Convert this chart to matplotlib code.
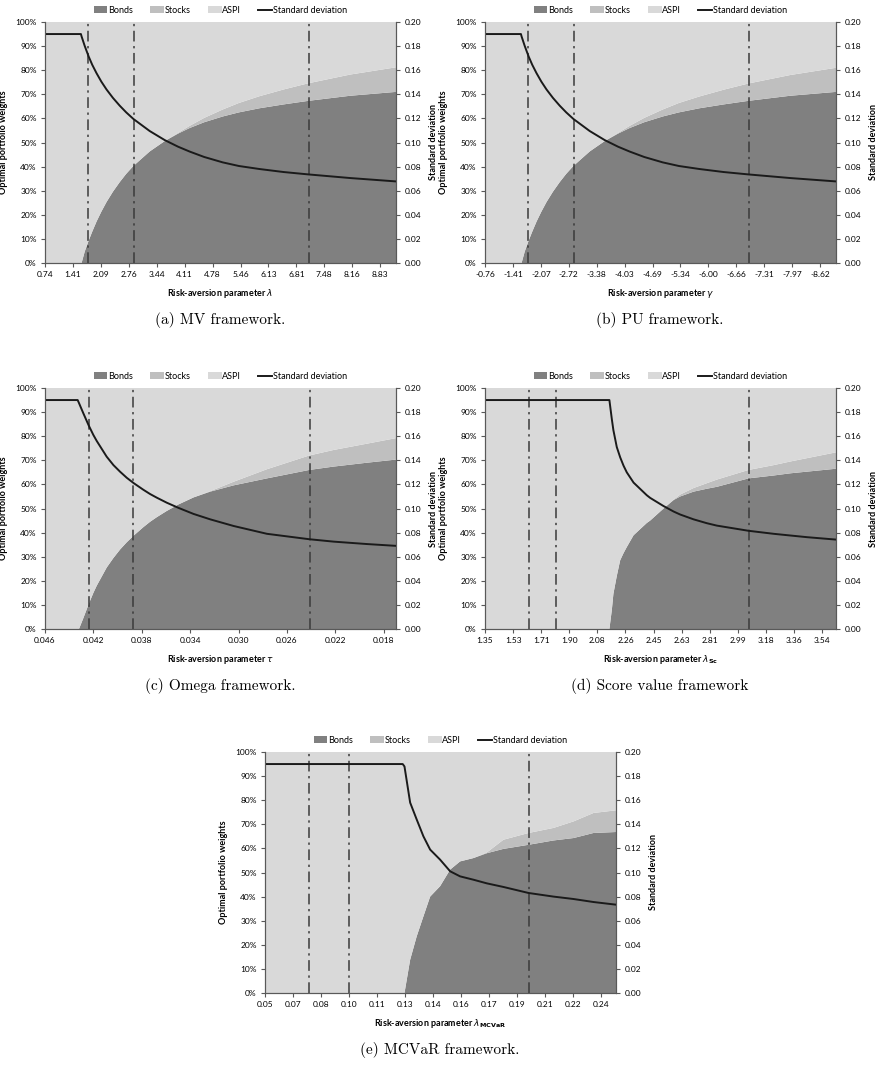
import numpy as np
import matplotlib
matplotlib.use("Agg")
import matplotlib.pyplot as plt

plt.rcParams['font.family'] = ['Lato', 'DejaVu Sans']

# (a) MV framework
x_mv = [0.74, 1.607, 1.623, 1.70, 1.792, 1.88, 1.984, 2.10, 2.225, 2.38, 2.545, 2.70,
        2.875, 3.268, 3.63, 3.953, 4.23, 4.581, 5.03, 5.42, 5.915, 6.498, 7.102, 8.108,
        9.212]
bonds_mv = [0, 0, 0, 4.8, 9.2, 13.0, 17.2, 21.3, 25.3, 29.6, 33.6, 37.0, 40.3, 46.3, 50.6,
            53.7, 56.0, 58.4, 60.8, 62.5, 64.2, 65.8, 67.3, 69.4, 71]
stocks_mv = [0, 0, 0, 0, 0, 0, 0, 0, 0, 0, 0, 0, 0, 0, 0, 0.3, 0.9, 1.8, 2.9, 3.9, 5.0,
             6.2, 7.3, 8.8, 10.2]
sd_mv = [0.19, 0.19, 0.188, 0.180, 0.1715, 0.1645, 0.1575, 0.1505, 0.1440, 0.1370, 0.1305,
         0.1250, 0.1195, 0.1095, 0.1020, 0.0965, 0.0925, 0.0880, 0.0835, 0.0805, 0.0780,
         0.0755, 0.0735, 0.0705, 0.0677]
vl_mv = [1.787, 2.882, 7.102]
ticks_mv = ["0.74", "1.41", "2.09", "2.76", "3.44", "4.11", "4.78", "5.46", "6.13",
            "6.81", "7.48", "8.16", "8.83"]

# (b) PU framework
x_pu = [-0.76, -1.603, -1.618, -1.693, -1.782, -1.868, -1.969, -2.082, -2.203, -2.354,
        -2.514, -2.665, -2.835, -3.217, -3.568, -3.882, -4.152, -4.493, -4.929, -5.308,
        -5.789, -6.356, -6.943, -7.920, -8.993]
bonds_pu = [0, 0, 0, 4.8, 9.2, 13.0, 17.2, 21.3, 25.3, 29.6, 33.6, 37.0, 40.3, 46.3, 50.6,
            53.7, 56.0, 58.4, 60.8, 62.5, 64.2, 65.8, 67.3, 69.4, 71]
stocks_pu = [0, 0, 0, 0, 0, 0, 0, 0, 0, 0, 0, 0, 0, 0, 0, 0.3, 0.9, 1.8, 2.9, 3.9, 4.9,
             6.1, 7.2, 8.6, 10]
sd_pu = [0.19, 0.19, 0.188, 0.180, 0.1715, 0.1645, 0.1575, 0.1505, 0.1440, 0.1370, 0.1305,
         0.1250, 0.1195, 0.1095, 0.1020, 0.0965, 0.0925, 0.0880, 0.0835, 0.0805, 0.0780,
         0.0755, 0.0735, 0.0705, 0.0677]
vl_pu = [-1.777, -2.842, -6.943]
ticks_pu = ["-0.76", "-1.41", "-2.07", "-2.72", "-3.38", "-4.03", "-4.69", "-5.34",
            "-6.00", "-6.66", "-7.31", "-7.97", "-8.62"]

# (c) Omega framework
x_om = [0.046, 0.04330, 0.04319, 0.04283, 0.04239, 0.04200, 0.04172, 0.04090, 0.04034,
        0.03979, 0.03924, 0.03866, 0.03786, 0.03731, 0.03676, 0.03593, 0.03496, 0.03372,
        0.03234, 0.03041, 0.02765, 0.02415, 0.02213, 0.01938, 0.01698]
bonds_om = [0, 0, 0, 4.5, 10.3, 15, 18, 25.5, 29.5, 33, 36, 38.8, 42.3, 44.5, 46.4, 49,
            51.7, 54.6, 57, 59.6, 62.5, 66, 67.4, 69, 70.3]
stocks_om = [0, 0, 0, 0, 0, 0, 0, 0, 0, 0, 0, 0, 0, 0, 0, 0, 0, 0, 0.2, 1.5, 3.8, 6.0,
             6.9, 7.9, 8.9]
sd_om = [0.19, 0.19, 0.1875, 0.179, 0.169, 0.161, 0.156, 0.143, 0.136, 0.1305, 0.1255,
         0.1210, 0.1155, 0.1120, 0.1090, 0.1048, 0.1005, 0.0955, 0.0910, 0.0855, 0.0790,
         0.0745, 0.0725, 0.0705, 0.069]
vl_om = [0.0424, 0.0387, 0.0241]
ticks_om = ["0.046", "0.042", "0.038", "0.034", "0.030", "0.026", "0.022", "0.018"]

# (d) Score value framework
x_sc = [1.35, 2.158, 2.174, 2.184, 2.206, 2.228, 2.250, 2.271, 2.315, 2.401, 2.423,
        2.510, 2.575, 2.618, 2.705, 2.791, 2.856, 3.062, 3.225, 3.333, 3.442, 3.630]
bonds_sc = [0, 0, 8, 14.6, 22, 28.5, 31.5, 34, 38.9, 44, 45, 50, 53.5, 55, 57, 58.2, 59,
            62.5, 63.7, 64.6, 65.3, 66.5]
stocks_sc = [0, 0, 0, 0, 0, 0, 0, 0, 0, 0, 0, 0, 0.2, 0.8, 1.5, 2.3, 3, 3.5, 4.3, 4.9,
             5.6, 6.8]
sd_sc = [0.19, 0.19, 0.174, 0.165, 0.151, 0.1425, 0.1355, 0.1300, 0.1215, 0.1110, 0.1088,
         0.1020, 0.0975, 0.0950, 0.0910, 0.0878, 0.0858, 0.0815, 0.0790, 0.0776, 0.0762,
         0.0742]
vl_sc = [1.634, 1.814, 3.062]
ticks_sc = ["1.35", "1.53", "1.71", "1.90", "2.08", "2.26", "2.45", "2.63", "2.81",
            "2.99", "3.18", "3.36", "3.54"]

# (e) MCVaR framework
x_cv = [0.05, 0.1278, 0.1288, 0.1320, 0.1357, 0.1395, 0.1433, 0.1489, 0.1546, 0.1602,
        0.1678, 0.1753, 0.1847, 0.1989, 0.2130, 0.2243, 0.2356, 0.2483]
bonds_cv = [0, 0, 0, 13.8, 23.5, 31.8, 40, 44.3, 51.2, 54.6, 56, 58, 59.8, 61.5, 63.3,
            64.3, 66.4, 66.8]
stocks_cv = [0, 0, 0, 0, 0, 0, 0, 0, 0, 0, 0, 0.3, 3.8, 4.9, 5.2, 6.9, 8.3, 9]
sd_cv = [0.19, 0.19, 0.188, 0.158, 0.144, 0.130, 0.119, 0.1107, 0.101, 0.0968, 0.094,
         0.091, 0.088, 0.083, 0.080, 0.078, 0.0755, 0.0733]
vl_cv = [0.0747, 0.0975, 0.1993]
ticks_cv = ["0.05", "0.07", "0.08", "0.10", "0.11", "0.13", "0.14", "0.16", "0.17",
            "0.19", "0.21", "0.22", "0.24"]

W, H = 877, 1075
fig = plt.figure(figsize=(W / 100, H / 100), dpi=100)


def panel(left, top, x, bonds, stocks, sd, vlines, ticklabels, first, last, xlabel, caption):
    ax = fig.add_axes([left / W, 1 - (top + 241) / H, 351 / W, 241 / H])
    b = np.array(bonds)
    s = np.array(stocks)
    ax.stackplot(x, b, s, 100 - b - s, colors=['#808080', '#bfbfbf', '#d9d9d9'],
                 labels=['Bonds', 'Stocks', 'ASPI'], linewidth=0)
    for v in vlines:
        ax.axvline(v, color='#3a3a3a', lw=1.1, ls=(0, (7, 3, 1.5, 3)))
    ax.set_xlim(x[0], x[-1])
    ax.set_ylim(0, 100)
    ax.set_yticks(range(0, 101, 10))
    ax.set_yticklabels([f"{v}%" for v in range(0, 101, 10)])
    ax.set_xticks(np.linspace(first, last, len(ticklabels)))
    ax.set_xticklabels(ticklabels)
    ax.set_xlabel(xlabel, fontsize=6.5, fontweight='bold', labelpad=6)
    ax.set_ylabel("Optimal portfolio weights", fontsize=6.5, fontweight='bold', labelpad=5)

    ax2 = ax.twinx()
    ax2.plot(x, sd, color='#1a1a1a', lw=1.4, label='Standard deviation')
    ax2.set_ylim(0, 0.2)
    ax2.set_yticks(np.arange(0, 0.201, 0.02))
    ax2.set_yticklabels([f"{v:.2f}" for v in np.arange(0, 0.201, 0.02)])
    ax2.set_ylabel("Standard deviation", fontsize=6.5, fontweight='bold', labelpad=6)

    for a in (ax, ax2):
        a.tick_params(labelsize=6, length=3, width=0.8, color='#595959', pad=3)
        a.spines['top'].set_visible(False)
        for sp in ('left', 'right', 'bottom'):
            a.spines[sp].set_color('#595959')
            a.spines[sp].set_linewidth(0.8)

    h1, l1 = ax.get_legend_handles_labels()
    h2, l2 = ax2.get_legend_handles_labels()
    ax2.legend(h1 + h2, l1 + l2, loc='lower center', bbox_to_anchor=(0.5, 1.0), ncol=4,
               frameon=False, fontsize=6.5, handlelength=1.5, handleheight=0.7,
               handletextpad=0.1, columnspacing=1.9, borderaxespad=0.4)

    fig.text((left + 175) / W, 1 - (top + 241 + 57) / H, caption, ha='center',
             va='center', family='cmr10', fontsize=11)


panel(45, 22, x_mv, bonds_mv, stocks_mv, sd_mv, vl_mv, ticks_mv, 0.74, 8.83,
      r"Risk-aversion parameter $\lambda$", "(a) MV framework.")
panel(485, 22, x_pu, bonds_pu, stocks_pu, sd_pu, vl_pu, ticks_pu, -0.76, -8.62,
      r"Risk-aversion parameter $\gamma$", "(b) PU framework.")
panel(45, 388, x_om, bonds_om, stocks_om, sd_om, vl_om, ticks_om, 0.046, 0.018,
      r"Risk-aversion parameter $\tau$", "(c) Omega framework.")
panel(485, 388, x_sc, bonds_sc, stocks_sc, sd_sc, vl_sc, ticks_sc, 1.35, 3.54,
      r"Risk-aversion parameter $\lambda_{\mathbf{Sc}}$", "(d) Score value framework")
panel(265, 752, x_cv, bonds_cv, stocks_cv, sd_cv, vl_cv, ticks_cv, 0.05, 0.24,
      r"Risk-aversion parameter $\lambda_{\mathbf{MCVaR}}$", "(e) MCVaR framework.")

fig.savefig("out.png", dpi=100)
